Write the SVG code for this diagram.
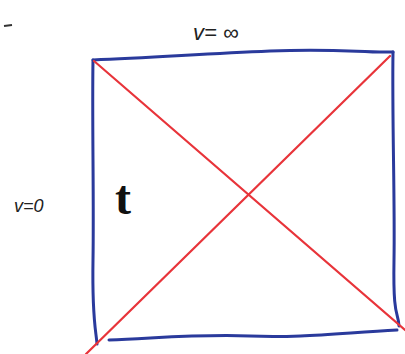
<svg xmlns="http://www.w3.org/2000/svg" width="405" height="354" viewBox="0 0 405 354">
<style>
.blue{fill:none;stroke:#2a3a9c;stroke-width:3;stroke-linecap:round;stroke-linejoin:round}
.red{fill:none;stroke:#e8343a;stroke-width:2.2;stroke-linecap:round}
.lbl{font-family:"Liberation Sans",sans-serif;fill:#222;font-style:italic}
</style>
<rect width="405" height="354" fill="#fff"/>
<g id="edges">
<path class="blue" d="M93,60 C150,58 200,54 270,51 S360,53 393,52"/>
<path class="blue" d="M93,60 C92,120 94,200 93,260 S96,330 97,344"/>
<path class="blue" d="M109,340 C160,338 200,334 250,336 S340,333 397,330"/>
<path class="blue" d="M393,52 C392,120 395,200 394,260 S398,310 399,326"/>
<path class="red" d="M94,61 L405,330"/>
<path class="red" d="M390,56 L86,354"/>
</g>
<g id="top-label"><text class="lbl" x="193" y="40" font-size="22">v= ∞</text></g>
<g id="left-label"><text class="lbl" x="14" y="212" font-size="18">v=0</text></g>
<g id="t-label"><text x="115" y="214" font-family="Liberation Serif,serif" font-size="48" font-weight="bold" fill="#111">t</text></g>
<g id="dash"><path d="M4,26 L12,25" stroke="#333" stroke-width="2" fill="none"/></g>
</svg>
